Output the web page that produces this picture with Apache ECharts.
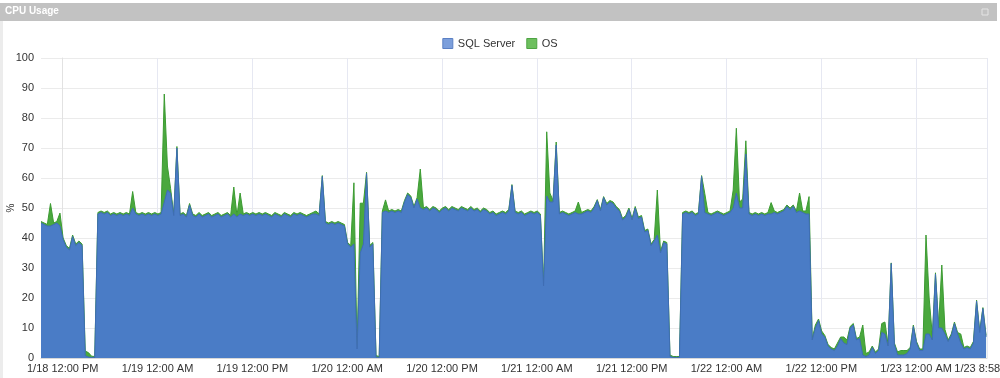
<!DOCTYPE html>
<html><head><meta charset="utf-8">
<script src="https://cdn.jsdelivr.net/npm/echarts@6/dist/echarts.min.js"></script>
<style>html,body{margin:0;padding:0;background:#fff}#c{width:1000px;height:378px}</style>
</head><body><div id="c"></div>
<script>
// hours relative to 1/18 12:00 PM
const START_HOUR = -2.75;
const STEP_HOURS = 0.4;
const AXIS_MIN = -2.75;
const AXIS_MAX = 116.97;
const seriesNames = ['SQL Server', 'OS'];
const tickHours = [0, 12, 24, 36, 48, 60, 72, 84, 96, 108, 116.97];
const tickLabels = ['1/18 12:00 PM', '1/19 12:00 AM', '1/19 12:00 PM', '1/20 12:00 AM', '1/20 12:00 PM',
  '1/21 12:00 AM', '1/21 12:00 PM', '1/22 12:00 AM', '1/22 12:00 PM', '1/23 12:00 AM', '1/23 8:58 AM'];
const yTicks = [0, 10, 20, 30, 40, 50, 60, 70, 80, 90, 100];

const sqlServer = [
45,44.5,44,44,44.5,45,44,39.5,37,36,
40.5,37.5,38.5,37.5,0.8,0.3,0.2,0.2,48,48.5,
48,48.5,47.5,48,47.5,48,47.5,48,47.5,50,
48,47.5,48,47.5,48,47.5,48,47.5,48,52,
56,55,47.5,70,47.5,48,47,51,47.5,47,
48,47,47.5,48,47,47.5,48,47,47.5,48,
47,48,47,48,47.5,48,47.5,48,47.5,48,
47.5,48,47.5,47,48,47.5,47,48,47.5,47,
48,47.5,48,47.5,47,47.5,48,48,47.5,60.5,
45,44.5,45,44.5,45,44.5,44,38,37,38,
3,35,38,61.5,37,38,0.3,0.2,48.5,49,
48.5,49,48.5,49,48.5,52,54.5,53.5,50,53,
50,49.5,50,49,50,49.5,48.5,49.5,50,49,
50,49.5,49,50,49.5,49,50,49,49.5,48.5,
49.5,49,48,48.5,47.5,48,48.5,48,49,57.5,
48.5,48,48.5,47.5,48,48.5,48,48.5,47.5,24,
54,52,52,71,48,48.5,48,47.5,48,48.5,
48,48,48.5,49,48.5,50,52.5,49,53.5,51,
52,51.5,50,49,46,47,49.5,46,50,46.5,
47,42,42.5,37.5,39,41,35,38.5,38,0.5,
0.2,0.2,0.2,48,48.5,48,48.5,47.5,48,60.5,
48.5,48,47.5,48,48.5,48,47.5,48,48.5,50,
55,50,50,68,48,47.5,48,47.5,48,47.5,
48,48,48.5,48,48.5,49,50.5,49.5,50.5,48.5,
49,48.5,48,48,6,10,12.5,8,7,4,
3,2.5,4,6.5,5,4.5,10,11,6,6.5,
1,0.5,1,3.5,1.5,2.5,8.5,8,4,31.5,
4.5,1,1,1,1.5,3,10.5,5,2.5,2.5,
8,8,6,28,10,10,8,5.5,7.5,11.5,
8,5,3,3.5,3,5,19,8.5,16.5,7
];
const os = [
0.5,0.5,0.5,7.5,0.5,0.5,4.3,0.5,0.5,0.5,
0.5,0.5,0.5,0.5,1.5,1.5,0.4,0.3,0.5,0.5,
0.5,0.5,0.5,0.5,0.5,0.5,0.5,0.5,0.5,5.5,
0.5,0.5,0.5,0.5,0.5,0.5,0.5,0.5,0.5,36,
8,1.5,0.5,0.5,0.5,0.5,0.5,0.5,0.5,0.5,
0.5,0.5,0.5,0.5,0.5,0.5,0.5,0.5,0.5,0.5,
0.5,9,0.5,7,0.5,0.5,0.5,0.5,0.5,0.5,
0.5,0.5,0.5,0.5,0.5,0.5,0.5,0.5,0.5,0.5,
0.5,0.5,0.5,0.5,0.5,0.5,0.5,1,0.5,0.3,
0.5,0.5,0.5,0.5,0.5,0.5,0.5,0.5,0.5,20.4,
0.5,16.6,13.6,0.4,0.5,0.5,0.5,0.3,0.5,3.7,
0.5,0.5,0.5,0.5,0.5,0.5,0.5,0.5,0.5,0.5,
13,0.5,0.5,0.5,0.5,0.5,0.5,0.5,0.5,0.5,
0.5,0.5,0.5,0.5,0.5,0.5,0.5,0.5,0.5,0.5,
0.5,0.5,0.5,0.5,0.5,0.5,0.5,0.5,0.5,0.3,
0.5,0.5,0.5,0.5,0.5,0.5,0.5,0.5,0.5,0.3,
21.4,3,0.5,1,0.5,0.5,0.5,0.5,0.5,0.5,
4,0.5,0.5,0.5,0.5,0.5,0.3,0.5,0.3,0.5,
0.5,0.5,0.5,0.5,0.5,0.5,0.5,0.5,0.5,0.5,
0.5,0.5,0.5,0.5,0.5,15,0.5,0.5,0.5,0.5,
0.3,0.3,0.3,0.5,0.5,0.5,0.5,0.5,0.5,0.3,
6.4,0.5,0.5,0.5,0.5,0.5,0.5,0.5,0.5,6,
21.6,2,3,4.4,0.5,0.5,0.5,0.5,0.5,0.5,
0.5,3.8,0.5,0.5,0.5,0.5,0.5,0.5,0.5,0.5,
6,0.5,1,5.8,0.5,1,0.5,1,0.5,0.5,
0.5,0.5,1,0.5,2,1.5,0.5,0.5,0.5,0.5,
10,1,1,0.5,0.5,0.5,3,4,0.5,0.2,
0.5,1,1.5,1.5,1,0.5,0.5,0.5,0.5,0.5,
33,12,1.5,0.4,1,21,1.5,0.5,0.5,0.5,
0.5,3,0.5,0.5,0.5,0.5,0.3,0.5,0.3,0.5
];

// OS is stacked on top of SQL Server: build the stacked table from the arrays
const sqlPoints = sqlServer.map((v, i) => [START_HOUR + i * STEP_HOURS, v]);
const totalPoints = os.map((v, i) => [START_HOUR + i * STEP_HOURS, sqlServer[i] + v]);
const labelFor = v => {
  for (let k = 0; k < tickHours.length; k++) if (Math.abs(tickHours[k] - v) < 1e-6) return tickLabels[k];
  return '';
};

const chart = echarts.init(document.getElementById('c'), null, { renderer: 'canvas' });
const FONT = 'Liberation Sans, Arial, sans-serif';
chart.setOption({
  animation: false,
  backgroundColor: '#ffffff',
  graphic: [
    { type: 'rect', shape: { x: 0, y: 20, width: 3, height: 358 }, style: { fill: '#ececec' }, silent: true, z: -10 },
    { type: 'rect', shape: { x: 0, y: 3, width: 997, height: 18 }, style: { fill: '#c2c2c2' }, silent: true },
    { type: 'text', left: 5, top: 6, style: { text: 'CPU Usage', fill: '#ffffff', font: 'bold 10px ' + FONT }, silent: true },
    { type: 'rect', shape: { x: 982, y: 9, width: 6, height: 6 }, style: { fill: 'none', stroke: '#e4e4e4', lineWidth: 1 }, silent: true }
  ],
  legend: {
    top: 33, left: 'center',
    itemWidth: 10, itemHeight: 10, itemGap: 11,
    icon: 'rect',
    textStyle: { color: '#333', fontSize: 11, fontFamily: FONT },
    data: [
      { name: seriesNames[0], itemStyle: { color: '#7c9fdc', borderColor: '#5b80c4', borderWidth: 1 } },
      { name: seriesNames[1], itemStyle: { color: '#6dbf5e', borderColor: '#4ea443', borderWidth: 1 } }
    ]
  },
  grid: { left: 41, right: 13, top: 58, bottom: 20, containLabel: false, outerBoundsMode: 'none' },
  xAxis: {
    type: 'value', min: AXIS_MIN, max: AXIS_MAX,
    axisLine: { show: true, lineStyle: { color: '#d8d8d8' } },
    axisTick: { show: false, customValues: tickHours },
    axisLabel: { customValues: tickHours, formatter: v => labelFor(v), color: '#333', fontSize: 11, fontFamily: FONT, margin: 5,
      showMaxLabel: true, hideOverlap: false, alignMaxLabel: 'center', alignMinLabel: 'center' },
    splitLine: { show: true, lineStyle: { color: '#e6e8f2', width: 1 } }
  },
  yAxis: {
    type: 'value', min: 0, max: 100, interval: 10,
    name: '%', nameLocation: 'middle', nameGap: 25, nameRotate: 90, nameMoveOverlap: false,
    nameTextStyle: { color: '#333', fontSize: 10, fontFamily: FONT },
    axisLine: { show: true, lineStyle: { color: '#e2e2e2' } },
    axisTick: { show: false },
    axisLabel: { color: '#333', fontSize: 11, fontFamily: FONT, margin: 7,
      formatter: v => (yTicks.indexOf(v) >= 0 ? String(v) : '') },
    splitLine: { show: true, lineStyle: { color: '#ebebeb', width: 1 } }
  },
  series: [
    {
      name: seriesNames[1], type: 'line', data: totalPoints, z: 2,
      showSymbol: false, symbol: 'none',
      lineStyle: { color: '#3c9b32', width: 1 },
      itemStyle: { color: '#4aa83e' },
      areaStyle: { color: '#4aa83e', opacity: 1 }
    },
    {
      name: seriesNames[0], type: 'line', data: sqlPoints, z: 3,
      showSymbol: false, symbol: 'none',
      lineStyle: { color: '#3f6db4', width: 1 },
      itemStyle: { color: '#4a7cc6' },
      areaStyle: { color: '#4a7cc6', opacity: 1 }
    }
  ]
});
</script>
</body></html>
